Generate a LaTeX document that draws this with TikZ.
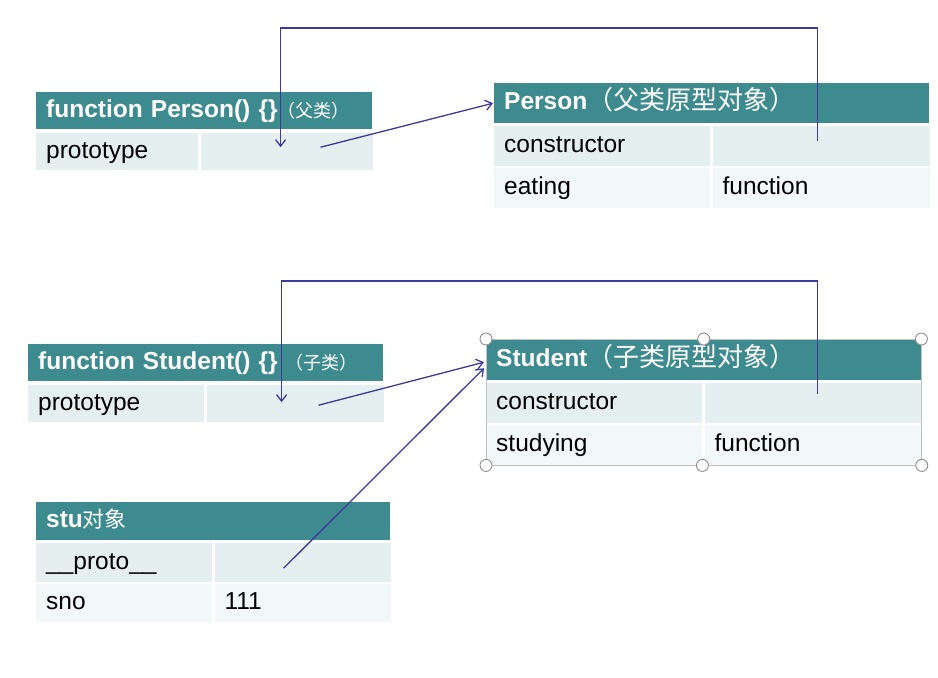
\documentclass[tikz,border=0pt]{standalone}
\usepackage{fontspec}
\setsansfont{Liberation Sans}
\newfontfamily\cjk{Noto Sans CJK SC}
\usepackage{tikz}
\usepackage{xcolor}
\usetikzlibrary{arrows.meta,positioning,calc}
\definecolor{headteal}{HTML}{3E8B8F}
\definecolor{rowone}{HTML}{E5EFF0}
\definecolor{rowtwo}{HTML}{F2F7F8}
\definecolor{linkblue}{HTML}{3C3C98}
\definecolor{framegray}{HTML}{C2C2C2}
\definecolor{handlegray}{HTML}{8C8C8C}
\newcommand{\cjkhead}[2]{{\cjk\mdseries\fontsize{#1}{#1}\selectfont #2}}
\tikzset{
  tabhead/.style={anchor=north west,fill=headteal,text=white,
                  minimum width=#1,text width=#1-20pt,align=left,
                  text height=18pt,text depth=5pt,
                  minimum height=38pt,inner xsep=10pt,inner ysep=0pt,
                  font=\sffamily\bfseries\fontsize{24.5}{26}\selectfont},
  cell/.style={anchor=north west,text=black,
               minimum width=#1,text width=#1-20pt,align=left,
               text height=18pt,text depth=5pt,
               minimum height=40pt,inner xsep=10pt,inner ysep=0pt,
               font=\sffamily\fontsize{24.5}{26}\selectfont},
  rowa/.style={cell=#1,fill=rowone},
  rowb/.style={cell=#1,fill=rowtwo},
  link/.style={-{Straight Barb[length=6.5pt,width=10pt]},line width=1.3pt,color=linkblue},
  handle/.style={draw=handlegray,fill=white,line width=0.9pt}
}
\begin{document}
\begin{tikzpicture}[x=1pt,y=-1pt]
  \useasboundingbox[fill=white] (0,0) rectangle (938,678);
  % Person() constructor
  \node[tabhead=336pt,minimum height=37pt] (pfhead) at (36,92) {function Person() \{\}\cjkhead{18}{（父类）}};
  \node[rowa=162pt,minimum height=37pt] (pfkey) at (36,133) {prototype};
  \node[rowa=172pt,minimum height=37pt,right=2pt of pfkey] (pfval) {};
  % Person prototype
  \node[tabhead=435pt,minimum height=40pt] (pphead) at (494,83) {Person\cjkhead{26}{（父类原型对象）}};
  \node[rowa=216pt] (ppconskey) at (494,126) {constructor};
  \node[rowa=217pt,right=2pt of ppconskey] (ppconsval) {};
  \node[rowb=216pt] (ppeatkey) at (494,168) {eating};
  \node[rowb=217pt,right=2pt of ppeatkey] (ppeatval) {function};
  % Student() constructor
  \node[tabhead=355pt,minimum height=37pt] (sfhead) at (28,344) {function Student() \{\} \cjkhead{18}{（子类）}};
  \node[rowa=176pt,minimum height=37pt] (sfkey) at (28,385) {prototype};
  \node[rowa=177pt,minimum height=37pt,right=2pt of sfkey] (sfval) {};
  % Student prototype
  \node[tabhead=435pt,minimum height=41pt] (sphead) at (486,339) {Student\cjkhead{26}{（子类原型对象）}};
  \node[rowa=216pt] (spconskey) at (486,383) {constructor};
  \node[rowa=217pt,right=2pt of spconskey] (spconsval) {};
  \node[rowb=216pt] (spstudykey) at (486,425) {studying};
  \node[rowb=217pt,right=2pt of spstudykey] (spstudyval) {function};
  % stu object
  \node[tabhead=354pt,minimum height=38pt] (stuhead) at (36,502) {stu\cjkhead{22}{对象}};
  \node[rowa=176pt,minimum height=39pt] (stuprotokey) at (36,543) {\_\_proto\_\_};
  \node[rowa=176pt,minimum height=39pt,right=2pt of stuprotokey] (stuprotoval) {};
  \node[rowb=176pt,minimum height=38pt] (stusnokey) at (36,584) {sno};
  \node[rowb=176pt,minimum height=38pt,right=2pt of stusnokey] (stusnoval) {111};
  % selection frame
  \draw[framegray,line width=0.9pt] (sphead.north west) rectangle (spstudyval.south east);
  \foreach \pt in {sphead.north west,sphead.north,sphead.north east,
                   spstudykey.south west,spstudykey.south east,spstudyval.south east}
    \draw[handle] (\pt) circle (6pt);
  % pointers
  \coordinate (pfin) at ([xshift=-6pt,yshift=4.5pt]pfval.center);
  \coordinate (pfout) at ([xshift=34pt,yshift=4.5pt]pfval.center);
  \coordinate (ppin) at ([xshift=-3.5pt,yshift=5pt]ppconsval.center);
  \coordinate (ptop) at (0,28);
  \coordinate (sfin) at ([xshift=-13.5pt,yshift=1.5pt]sfval.center);
  \coordinate (sfout) at ([xshift=23.5pt,yshift=-1.5pt]sfval.center);
  \coordinate (spin) at ([xshift=4.5pt,yshift=9pt]spconsval.center);
  \coordinate (stop) at (0,281);
  \coordinate (stuout) at ([xshift=-19pt,yshift=-5.5pt]stuprotoval.center);
  \draw[link] (pfout) -- ([xshift=-1pt]pphead.west);
  \draw[link] (ppin) -- (ppin |- ptop) -| (pfin);
  \draw[link] (sfout) -- ([xshift=-2pt,yshift=-2.5pt]sphead.west);
  \draw[link] (spin) -- (spin |- stop) -| (sfin);
  \draw[link] (stuout) -- ([xshift=-2pt,yshift=-8.5pt]sphead.west);
\end{tikzpicture}
\end{document}
